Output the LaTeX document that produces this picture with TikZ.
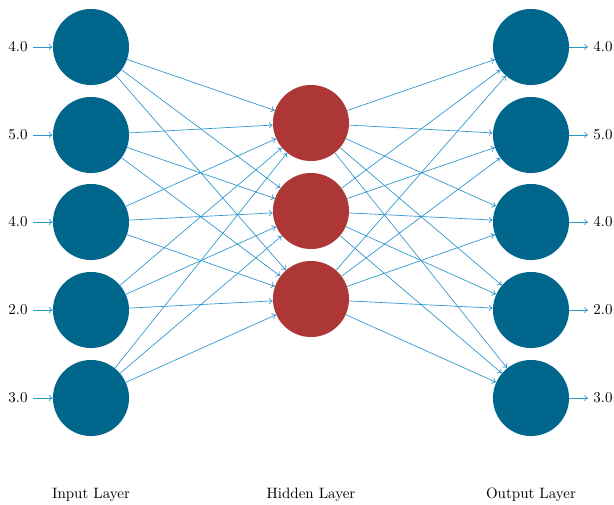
\documentclass[tikz,border=0pt]{standalone}
\usetikzlibrary{arrows.meta}
\definecolor{nodeblue}{RGB}{0,102,140}
\definecolor{nodered}{RGB}{173,54,54}
\definecolor{edgeblue}{RGB}{45,150,205}
\begin{document}
\begin{tikzpicture}[x=0.6667pt,y=-0.6667pt,
  neuron/.style={circle,minimum size=50.7pt,inner sep=0pt},
  inneuron/.style={neuron,fill=nodeblue},
  hidneuron/.style={neuron,fill=nodered},
  edge/.style={draw=edgeblue,line width=0.45pt,-{To[length=2.6pt,width=4.2pt]}},
  val/.style={font=\normalsize},
  layerlabel/.style={font=\normalsize}]
\useasboundingbox (0,0) rectangle (614,505);
\foreach \k/\y/\v in {1/47/4.0,2/135/5.0,3/222/4.0,4/310/2.0,5/398/3.0}{
  \node[inneuron] (i\k) at (91,\y) {};
  \node[inneuron] (o\k) at (531,\y) {};
  \node[val] (lt\k) at (18,\y) {\v};
  \node[val] (rt\k) at (603,\y) {\v};
}
\foreach \k/\y in {1/123,2/211,3/299}{
  \node[hidneuron] (h\k) at (311,\y) {};
}
\foreach \k in {1,...,5}{
  \draw[edge] (lt\k) -- (i\k);
  \draw[edge] (o\k) -- (rt\k);
  \foreach \j in {1,2,3}{
    \draw[edge] (i\k) -- (h\j);
    \draw[edge] (h\j) -- (o\k);
  }
}
\node[layerlabel] (L1) at (91,495) {Input Layer};
\node[layerlabel] (L2) at (311,495) {Hidden Layer};
\node[layerlabel] (L3) at (531,495) {Output Layer};
\end{tikzpicture}
\end{document}
